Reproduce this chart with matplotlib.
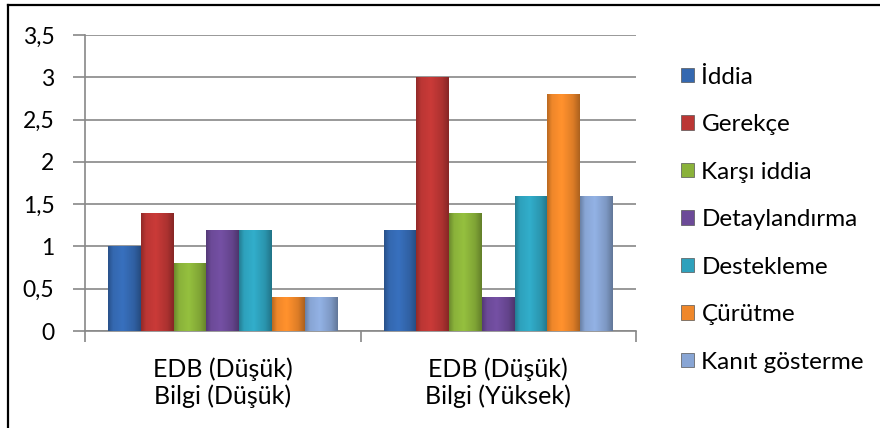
import numpy as np
import matplotlib

matplotlib.use("Agg")
import matplotlib.pyplot as plt
from matplotlib.colors import to_rgb
from matplotlib.lines import Line2D
from matplotlib.patches import Patch

plt.rcParams["font.family"] = ["Lato", "DejaVu Sans"]

categories = ["EDB (Düşük)\nBilgi (Düşük)", "EDB (Düşük)\nBilgi (Yüksek)"]
series_names = ["İddia", "Gerekçe", "Karşı iddia", "Detaylandırma",
                "Destekleme", "Çürütme", "Kanıt gösterme"]
iddia = [1.0, 1.2]
gerekce = [1.4, 3.0]
karsi_iddia = [0.8, 1.4]
detaylandirma = [1.2, 0.4]
destekleme = [1.2, 1.6]
curutme = [0.4, 2.8]
kanit = [0.4, 1.6]
series_values = [iddia, gerekce, karsi_iddia, detaylandirma, destekleme, curutme, kanit]
colors = ["#3468B0", "#BB3634", "#8AB23A", "#6C4A98", "#2EA1BC", "#EF872A", "#88A5D4"]
y_ticks = [0, 0.5, 1, 1.5, 2, 2.5, 3, 3.5]
y_tick_labels = ["0", "0,5", "1", "1,5", "2", "2,5", "3", "3,5"]

W, H = 880, 428
fig = plt.figure(figsize=(W / 100, H / 100), dpi=100)
ax = fig.add_axes([85 / W, (H - 331) / H, (636 - 85) / W, (331 - 35) / H])

grey = "#888888"
bar_w = 0.119
x = np.arange(len(categories))
# horizontal shading so the bars look rounded, like the Excel bevel style
shade_pos = [0.0, 0.15, 0.45, 0.8, 1.0]
shade_val = [0.78, 1.0, 1.08, 0.92, 0.72]
prof = np.interp(np.linspace(0, 1, 64), shade_pos, shade_val)

for i, (vals, col) in enumerate(zip(series_values, colors)):
    offs = x + (i - 3) * bar_w
    bars = ax.bar(offs, vals, width=bar_w, color=col, edgecolor="none", zorder=3)
    base = np.array(to_rgb(col))
    for b in bars:
        img = np.clip(prof[None, :, None] * base[None, None, :], 0, 1)
        x0, y0 = b.get_x(), b.get_y()
        im = ax.imshow(img, extent=[x0, x0 + b.get_width(), y0, y0 + b.get_height()],
                       aspect="auto", interpolation="bilinear", zorder=3.1)
        im.set_clip_path(b)

ax.set_xlim(-0.5, 1.5)
ax.set_ylim(0, 3.5)
ax.set_yticks(y_ticks)
ax.set_yticklabels(y_tick_labels)
ax.set_xticks(x)
ax.set_xticklabels(categories, linespacing=1.2)
ax.set_xticks([-0.5, 0.5, 1.5], minor=True)
ax.tick_params(axis="x", which="major", length=0, pad=19, labelsize=18)
ax.tick_params(axis="x", which="minor", length=8, color=grey, width=1.2)
ax.tick_params(axis="y", length=9, color=grey, width=1.2, pad=13, labelsize=16.5)
ax.grid(axis="y", color=grey, linewidth=1.2, zorder=0)
for side in ["top", "right"]:
    ax.spines[side].set_visible(False)
for side in ["left", "bottom"]:
    ax.spines[side].set_color(grey)
    ax.spines[side].set_linewidth(1.2)

handles = [Patch(facecolor=c, edgecolor="#555555", linewidth=0.5) for c in colors]
fig.legend(handles, series_names, loc="upper left", bbox_to_anchor=(671 / W, 1 - 57 / H),
           frameon=False, fontsize=17.5, handlelength=0.55, handleheight=0.55,
           handletextpad=0.3, labelspacing=1.09, borderaxespad=0)

fig.add_artist(Line2D([8 / W, 8 / W], [0, 1 - 5 / H], color="black", linewidth=1.6))
fig.add_artist(Line2D([8 / W, 1], [1 - 5 / H, 1 - 5 / H], color="black", linewidth=1.6))

fig.savefig("out.png", dpi=100)
